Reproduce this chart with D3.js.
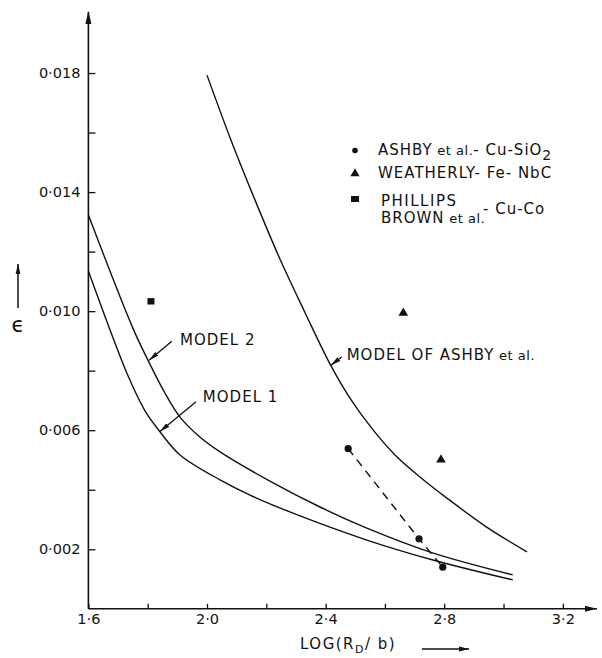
<!DOCTYPE html>
<html><head><meta charset="utf-8">
<script src="https://cdn.jsdelivr.net/npm/d3@7"></script>
<style>
html,body{margin:0;padding:0;background:#fff;}
svg text{font-family:"DejaVu Sans",sans-serif;fill:#111;}
</style></head>
<body><svg id="c" width="602" height="658"></svg>
<script>
// ---------- data ----------
const xMajorTicks = [1.6, 2.0, 2.4, 2.8, 3.2];
const xMajorLabels = ["1·6", "2·0", "2·4", "2·8", "3·2"];
const xMinorTicks = [1.8, 2.2, 2.6, 3.0];
const yMajorTicks = [0.002, 0.006, 0.010, 0.014, 0.018];
const yMajorLabels = ["0·002", "0·006", "0·010", "0·014", "0·018"];
const yMinorTicks = [0.004, 0.008, 0.012, 0.016];

const model1X = [1.6, 1.673, 1.734, 1.791, 1.842, 1.909, 2.044, 2.145, 2.314, 2.539, 2.762, 3.031];
const model1Y = [0.01135, 0.00937, 0.00782, 0.00665, 0.00594, 0.00517, 0.00433, 0.00382, 0.00312, 0.00231, 0.00164, 0.00097];

const model2X = [1.6, 1.750, 1.802, 1.858, 1.909, 1.976, 2.044, 2.212, 2.381, 2.539, 2.763, 3.031];
const model2Y = [0.01323, 0.00943, 0.00833, 0.00725, 0.00644, 0.00577, 0.00527, 0.00429, 0.00342, 0.00271, 0.00187, 0.00114];

const ashbyModelX = [2.0, 2.078, 2.162, 2.246, 2.331, 2.415, 2.482, 2.560, 2.634, 2.718, 2.809, 2.938, 3.079];
const ashbyModelY = [0.01793, 0.01582, 0.01373, 0.01175, 0.00994, 0.00822, 0.00708, 0.00601, 0.00517, 0.00443, 0.00372, 0.00278, 0.00191];

const ashbyExpX = [2.476, 2.715, 2.795];
const ashbyExpY = [0.00538, 0.00235, 0.0014];
const weatherlyX = [2.662, 2.789];
const weatherlyY = [0.00994, 0.00501];
const phillipsX = [1.811];
const phillipsY = [0.01033];

// label anchors (data units): text position, arrow tail, arrow tip
const modelLabels = ["MODEL 2", "MODEL 1", "MODEL OF ASHBY"];
const labelX = [1.909, 1.986, 2.471];
const labelY = [0.00904, 0.00713, 0.00854];
const tailX = [1.881, 1.963, 2.454];
const tailY = [0.00899, 0.00696, 0.00846];
const tipX = [1.805, 1.8415, 2.418];
const tipY = [0.00835, 0.00596, 0.00818];

// ---------- drawing ----------
const svg = d3.select("#c");
const x = d3.scaleLinear().domain([1.6, 3.3]).range([88.4, 592.5]);
const y = d3.scaleLinear().domain([0, 0.02]).range([608.8, 13.5]);
const ink = "#111";

const defs = svg.append("defs");
defs.append("marker").attr("id", "ah").attr("viewBox", "0 0 10 6")
  .attr("refX", 10).attr("refY", 3).attr("markerWidth", 10).attr("markerHeight", 6)
  .attr("markerUnits", "userSpaceOnUse").attr("orient", "auto")
  .append("path").attr("d", "M0,0.6 L10,3 L0,5.4 Z").attr("fill", ink);

// axes lines with arrows
const x0 = x(1.6), yBase = y(0);
svg.append("line").attr("x1", x0).attr("y1", yBase).attr("x2", 597).attr("y2", yBase)
  .attr("stroke", ink).attr("stroke-width", 1.6);
svg.append("path").attr("d", `M597,${yBase} l-12,-3 l0,6 Z`).attr("fill", ink);
svg.append("line").attr("x1", x0).attr("y1", yBase).attr("x2", x0).attr("y2", 12)
  .attr("stroke", ink).attr("stroke-width", 1.6);
svg.append("path").attr("d", `M${x0},11 l-3,13 l6,0 Z`).attr("fill", ink);

// x axis ticks
svg.append("g").attr("transform", `translate(0,${yBase})`)
  .call(d3.axisBottom(x).tickValues(xMajorTicks).tickSize(-5).tickPadding(5)
    .tickFormat((d, i) => xMajorLabels[i]));
svg.append("g").attr("transform", `translate(0,${yBase})`)
  .call(d3.axisBottom(x).tickValues(xMinorTicks).tickSize(-5).tickFormat(""));
// y axis ticks
svg.append("g").attr("transform", `translate(${x0},0)`)
  .call(d3.axisLeft(y).tickValues(yMajorTicks).tickSize(-7).tickPadding(8)
    .tickFormat((d, i) => yMajorLabels[i]));
svg.append("g").attr("transform", `translate(${x0},0)`)
  .call(d3.axisLeft(y).tickValues(yMinorTicks).tickSize(-7).tickFormat(""));
svg.selectAll(".domain").remove();
svg.selectAll(".tick line").attr("stroke", ink).attr("stroke-width", 1.3);
svg.selectAll(".tick text").attr("font-size", 14.5).attr("font-family", "DejaVu Sans").attr("fill", ink);

// curves
const line = d3.line().x(d => x(d[0])).y(d => y(d[1])).curve(d3.curveCatmullRom.alpha(0.5));
function drawCurve(xs, ys) {
  svg.append("path").datum(xs.map((v, i) => [v, ys[i]])).attr("d", line)
    .attr("fill", "none").attr("stroke", ink).attr("stroke-width", 1.4);
}
drawCurve(model1X, model1Y);
drawCurve(model2X, model2Y);
drawCurve(ashbyModelX, ashbyModelY);

// dashed experimental line
svg.append("path").datum(ashbyExpX.map((v, i) => [v, ashbyExpY[i]]))
  .attr("d", d3.line().x(d => x(d[0])).y(d => y(d[1])))
  .attr("fill", "none").attr("stroke", ink).attr("stroke-width", 1.4).attr("stroke-dasharray", "8,6");

// points
svg.selectAll(".dot").data(ashbyExpX).enter().append("circle")
  .attr("cx", d => x(d)).attr("cy", (d, i) => y(ashbyExpY[i])).attr("r", 3.6).attr("fill", ink);
const tri = d3.symbol().type(d3.symbolTriangle).size(40);
svg.selectAll(".tri").data(weatherlyX).enter().append("path")
  .attr("d", tri).attr("transform", (d, i) => `translate(${x(d)},${y(weatherlyY[i])})`).attr("fill", ink);
svg.selectAll(".sq").data(phillipsX).enter().append("rect")
  .attr("x", d => x(d) - 3.5).attr("y", (d, i) => y(phillipsY[i]) - 3.2)
  .attr("width", 7).attr("height", 6.4).attr("fill", ink);

// model labels + arrows
modelLabels.forEach((t, i) => {
  svg.append("line").attr("x1", x(tailX[i])).attr("y1", y(tailY[i]))
    .attr("x2", x(tipX[i])).attr("y2", y(tipY[i]))
    .attr("stroke", ink).attr("stroke-width", 1.3).attr("marker-end", "url(#ah)");
  const tx = svg.append("text").attr("x", x(labelX[i])).attr("y", y(labelY[i]))
    .attr("dy", "0.36em").attr("font-size", 15).attr("letter-spacing", 1).text(t);
  if (i === 2) tx.append("tspan").attr("font-size", 13).attr("letter-spacing", 0.5).text(" et al.");
});

// legend
const lg = svg.append("g");
lg.append("circle").attr("cx", 355).attr("cy", 150.5).attr("r", 2.8).attr("fill", ink);
lg.append("path").attr("d", d3.symbol().type(d3.symbolTriangle).size(36)).attr("transform", "translate(355,173.5)").attr("fill", ink);
lg.append("rect").attr("x", 351).attr("y", 196).attr("width", 8).attr("height", 6).attr("fill", ink);
const t1 = lg.append("text").attr("x", 378).attr("y", 150).attr("dy", "0.36em").attr("font-size", 15).attr("letter-spacing", 1);
t1.append("tspan").text("ASHBY");
t1.append("tspan").attr("font-size", 13).attr("letter-spacing", 0.5).text(" et al.");
t1.append("tspan").text("- Cu-SiO");
t1.append("tspan").attr("dy", "5").attr("font-size", 14).text("2");
lg.append("text").attr("x", 378).attr("y", 173).attr("dy", "0.36em").attr("font-size", 15).attr("letter-spacing", 1)
  .text("WEATHERLY- Fe- NbC");
lg.append("text").attr("x", 381).attr("y", 201).attr("dy", "0.36em").attr("font-size", 15).attr("letter-spacing", 1.5)
  .text("PHILLIPS");
const t3 = lg.append("text").attr("x", 381).attr("y", 218).attr("dy", "0.36em").attr("font-size", 15).attr("letter-spacing", 1);
t3.append("tspan").text("BROWN");
t3.append("tspan").attr("font-size", 13).attr("letter-spacing", 0.5).text(" et al.");
lg.append("text").attr("x", 483).attr("y", 209).attr("dy", "0.36em").attr("font-size", 15).attr("letter-spacing", 1)
  .text("- Cu-Co");

// axis titles
const xt = svg.append("text").attr("x", 300).attr("y", 644).attr("dy", "0.36em").attr("font-size", 15).attr("letter-spacing", 1.5);
xt.append("tspan").text("LOG(R");
xt.append("tspan").attr("dy", 4).attr("font-size", 11).text("D");
xt.append("tspan").attr("dy", -4).text("/ b)");
svg.append("line").attr("x1", 422).attr("y1", 649).attr("x2", 469).attr("y2", 649)
  .attr("stroke", ink).attr("stroke-width", 1.5).attr("marker-end", "url(#ah)");

svg.append("text").attr("x", 18).attr("y", 324).attr("dy", "0.36em").attr("text-anchor", "middle")
  .attr("font-size", 21).text("ϵ");
svg.append("line").attr("x1", 18).attr("y1", 308).attr("x2", 18).attr("y2", 264)
  .attr("stroke", ink).attr("stroke-width", 1.5).attr("marker-end", "url(#ah)");
</script></body></html>
